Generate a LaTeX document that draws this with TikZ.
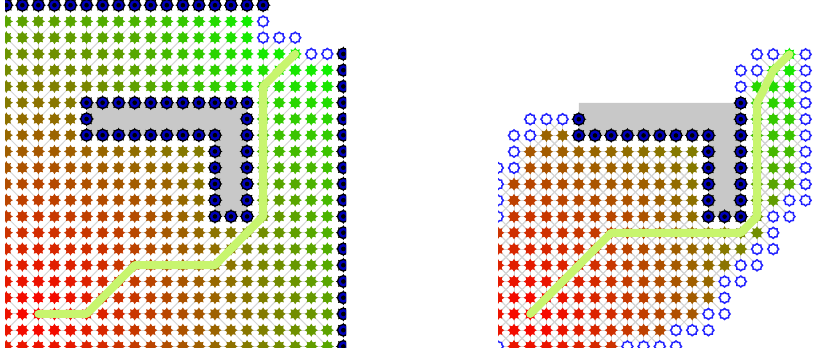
\documentclass[tikz,border=0pt]{standalone}
\usetikzlibrary{shapes.geometric}
\definecolor{pathc}{RGB}{200,245,110}
\definecolor{obstc}{RGB}{200,200,200}
\definecolor{treec}{RGB}{212,212,212}
\definecolor{navyc}{RGB}{0,0,185}
\definecolor{openc}{RGB}{35,35,255}
\definecolor{dotc}{rgb}{1,0,0}
\tikzset{
  treeline/.style={draw=treec, line width=1pt},
  spikes/.style={star, star points=8, star point ratio=1.6, inner sep=0pt, outer sep=0pt, draw=none},
  hollowdot/.style={star, star points=8, star point ratio=1.25, minimum size=11pt, inner sep=0pt, draw=openc, line width=1.5pt, fill=white},
  route/.style={draw=pathc, line width=8pt, line cap=round, line join=round},
  obstacle/.style={fill=obstc},
}
\pgfmathdeclarefunction{octd}{2}{%
  \begingroup
  \pgfmathparse{max(abs(#1),abs(#2))+0.41421*min(abs(#1),abs(#2))}%
  \pgfmathsmuggle\pgfmathresult
  \endgroup}
\pgfmathdeclarefunction{inobst}{2}{%
  \begingroup
  \pgfmathparse{((#2>=6 && #2<=8 && #1>=5 && #1<=15) || (#2>=6 && #2<=13 && #1>=13 && #1<=15)) ? 1 : 0}%
  \pgfmathsmuggle\pgfmathresult
  \endgroup}
\newcommand\setdotcolor[2]{%
  \pgfmathsetmacro\gdir{octd(#1-2,19-#2)}%
  \pgfmathsetmacro\gL{15.2426+octd(#1-5,5-#2)}%
  \pgfmathsetmacro\gR{16.4853+octd(#1-16,13-#2)}%
  \pgfmathsetmacro\gv{(#2<=5 && #1>=5 && #1<=15) ? \gL : ((#1>=16 && #2<=13) ? ((#1+#2>=29) ? \gdir : ((#2<=5) ? min(\gR,\gL) : \gR)) : \gdir)}%
  \pgfmathsetmacro\colG{min(1,\gv/29)}%
  \pgfmathsetmacro\colR{1-\colG}%
  \definecolor{dotc}{rgb}{\colR,\colG,0}%
}
\newcommand\parentL[2]{%
  \pgfmathtruncatemacro\dx{#1-2}%
  \pgfmathtruncatemacro\dy{19-#2}%
  \pgfmathtruncatemacro\adx{abs(\dx)}%
  \pgfmathtruncatemacro\ady{abs(\dy)}%
  \pgfmathtruncatemacro\reg{(#2<=5 && #1>=5 && #1<=15) ? 1 : ((#1>=16 && #2<=13) ? 2 : 3)}%
  \def\hx{0}%
  \ifcase\reg\or
    \pgfmathtruncatemacro\pa{(#1==5) ? ((#2==5) ? 4 : 5) : #1-1}%
    \pgfmathtruncatemacro\pb{(#1==5) ? #2+1 : ((#2==5) ? 5 : #2+1)}%
  \or
    \pgfmathtruncatemacro\pa{(#1==16) ? ((#2==13) ? 15 : 16) : #1-1}%
    \pgfmathtruncatemacro\pb{#2+1}%
  \or
    \pgfmathtruncatemacro\pa{(\ady>=\adx) ? ((\dx==0) ? 2 : ((\dx<0) ? #1+1 : #1-1)) : ((\dx>0) ? #1-1 : #1+1)}%
    \pgfmathtruncatemacro\pb{(\ady>=\adx) ? ((\dy>0) ? #2+1 : #2-1) : #2}%
    \ifnum\ady<\adx \ifnum\ady>0 \def\hx{1}\pgfmathtruncatemacro\eb{(\dy>0) ? #2+1 : #2-1}\fi\fi
  \fi
}
\newcommand\closeddot[2]{%
  \fill[dotc] (#2) circle[radius=4.9pt];
  \node[spikes, fill=dotc, minimum size=13.2pt] (#1) at (#2) {};
}
\newcommand\walldot[2]{%
  \node[spikes, fill=black, minimum size=15pt] (#1) at (#2) {};
  \fill[black] (#2) circle[radius=6.2pt];
  \fill[navyc] (#2) circle[radius=5pt];
  \fill[black] (#2) circle[radius=2.3pt];
}
\def\Rranges{0/17/17,1/16/17,2/15/17,3/15/17,4/15/17,5/2/3,5/15/17,6/1/11,6/15/17,7/1/11,7/15/17,8/0/11,8/15/17,9/0/11,9/15/16,10/0/11,10/15/15,11/-1/15,12/-1/14,13/-1/13,14/-1/12,15/-1/12,16/-1/11,17/-1/9,18/0/6}
\begin{document}
\begin{tikzpicture}[x=1pt,y=-1pt]
\useasboundingbox (0,0) rectangle (814,356);
\fill[white] (0,0) rectangle (814,356);
\foreach \i in {-1,...,22} \foreach \j in {-1,...,22} {
  \coordinate (L\i-\j) at ({6.3+16.05*\i},{5.2+16.25*\j});
}
\foreach \c in {-2,...,20} \foreach \r in {-2,...,20} {
  \coordinate (R\c-\r) at ({514+16.2*\c},{54.3+16.23*\r});
}
% ---------------- left panel
\begin{scope}
\clip (5,0) rectangle (346,347.5);
\foreach \j in {1,...,21} {
  \pgfmathtruncatemacro\hi{(\j==1) ? 16 : ((\j==2) ? 18 : 20)}
  \foreach \i in {0,...,\hi} {
    \pgfmathtruncatemacro\ob{inobst(\i,\j)}
    \pgfmathtruncatemacro\isS{(\i==2 && \j==19) ? 1 : 0}
    \ifnum\ob=0 \ifnum\isS=0
      \parentL{\i}{\j}
      \draw[treeline] (L\i-\j) -- (L\pa-\pb);
      \ifnum\hx=1 \draw[treeline] (L\i-\j) -- (L\pa-\eb); \fi
    \fi\fi
  }
}
\fill[obstacle] (L5-6) -- (L15-6) -- (L15-13) -- (L13-13) -- (L13-8) -- (L5-8) -- cycle;
\foreach \j in {1,...,21} {
  \pgfmathtruncatemacro\hi{(\j<=2) ? 15 : ((\j==3) ? 18 : 20)}
  \foreach \i in {0,...,\hi} {
    \pgfmathtruncatemacro\ob{inobst(\i,\j)}
    \ifnum\ob=0
      \setdotcolor{\i}{\j}
      \closeddot{dL\i-\j}{L\i-\j}
    \fi
  }
}
\foreach \i in {0,...,16} {\walldot{wL\i-0}{L\i-0}}
\foreach \j in {3,...,21} {\walldot{wL21-\j}{L21-\j}}
\foreach \i in {5,...,15} {\walldot{wL\i-6}{L\i-6}}
\foreach \i in {5,...,13} {\walldot{wL\i-8}{L\i-8}}
\foreach \i/\j in {5/7,15/7,15/8,13/9,13/10,13/11,13/12,15/9,15/10,15/11,15/12,13/13,14/13,15/13} {\walldot{wL\i-\j}{L\i-\j}}
\foreach \i/\j in {16/1,16/2,17/2,18/2,19/3,20/3} {\node[hollowdot] (oL\i-\j) at (L\i-\j) {};}
\draw[route] (L2-19) -- (L5-19) -- (L8-16) -- (L13-16) -- (L16-13) -- (L16-5) -- (L18-3);
\end{scope}
% ---------------- right panel
\begin{scope}
\clip (498,46) rectangle (814,347.5);
\foreach \r/\lo/\hi in \Rranges {
  \foreach \c in {\lo,...,\hi} {
    \foreach \dc/\dr in {1/0,-1/0,0/1,0/-1,1/1,1/-1,-1/1,-1/-1} {
      \pgfmathtruncatemacro\nc{\c+(\dc)}
      \pgfmathtruncatemacro\nr{\r+(\dr)}
      \pgfmathtruncatemacro\ob{inobst(\nc+1,\nr+3)}
      \ifnum\nr<0 \def\ob{1}\fi
      \ifnum\ob=0 \draw[treeline] (R\c-\r) -- (R\nc-\nr); \fi
    }
  }
}
\fill[obstacle] (R4-3) -- (R14-3) -- (R14-10) -- (R12-10) -- (R12-5) -- (R4-5) -- cycle;
\foreach \r/\lo/\hi in \Rranges {
  \foreach \c in {\lo,...,\hi} {
    \pgfmathtruncatemacro\ii{\c+1}
    \pgfmathtruncatemacro\jj{\r+3}
    \setdotcolor{\ii}{\jj}
    \closeddot{dR\c-\r}{R\c-\r}
  }
}
\foreach \c in {4,...,12} {\walldot{wR\c-5}{R\c-5}}
\foreach \c/\r in {14/3,4/4,14/4,14/5,12/6,14/6,12/7,14/7,12/8,14/8,12/9,14/9,12/10,13/10,14/10} {\walldot{wR\c-\r}{R\c-\r}}
\foreach \c/\r in {15/0,16/0,18/0,14/1,15/1,18/1,14/2,18/2,18/3,1/4,2/4,3/4,18/4,0/5,1/5,18/5,0/6,18/6,-1/7,0/7,18/7,-1/8,18/8,-1/9,17/9,18/9,-1/10,16/10,17/10,16/11,15/12,16/12,14/13,15/13,13/14,14/14,13/15,12/16,13/16,10/17,11/17,12/17,-1/18,7/18,8/18,9/18,10/18} {\node[hollowdot] (oR\c-\r) at (R\c-\r) {};}
\draw[route] (R1-16) -- (R6-11) -- (R14-11) -- (R15-10) -- (R15-3) -- (R16-1) -- (R17-0);
\end{scope}
\end{tikzpicture}
\end{document}
